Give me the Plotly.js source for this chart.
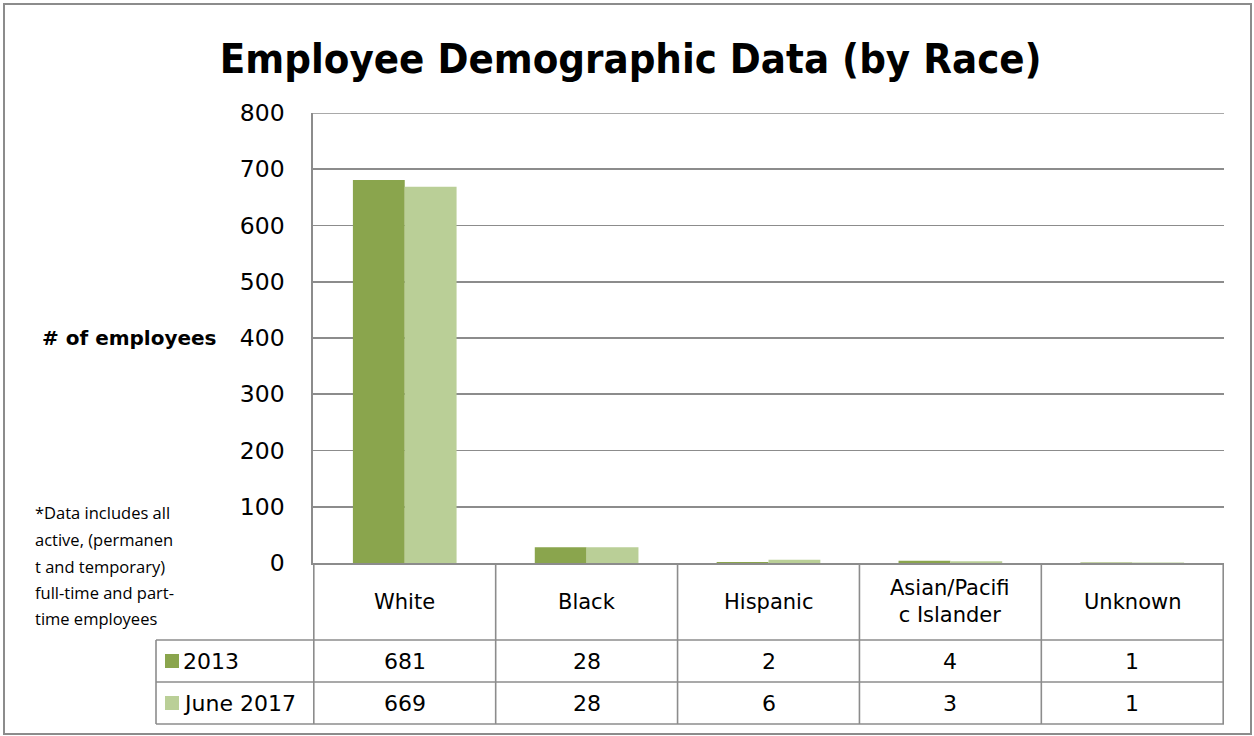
<!DOCTYPE html>
<html>
<head>
<meta charset="utf-8">
<script src="https://cdn.plot.ly/plotly-3.0.1.min.js"></script>
<style>
  html, body { margin: 0; padding: 0; background: #ffffff; }
  #chart { width: 1254px; height: 736px; }
</style>
</head>
<body>
<div id="chart"></div>
<script>
// ---- data ----
var categories = ['White', 'Black', 'Hispanic', 'Asian/Pacific Islander', 'Unknown'];
var categoryLabels = ['White', 'Black', 'Hispanic', 'Asian/Pacifi<br>c Islander', 'Unknown'];
var seriesNames = ['2013', 'June 2017'];
var values2013 = [681, 28, 2, 4, 1];
var valuesJune2017 = [669, 28, 6, 3, 1];
var yTickValues = [0, 100, 200, 300, 400, 500, 600, 700, 800];
var chartTitle = 'Employee Demographic Data (by Race)';
var yAxisLabel = '# of employees';
var noteLines = ['*Data includes all', 'active, (permanen', 't and temporary)', 'full-time and part-', 'time employees'];

// ---- styles ----
var colors = ['#8AA54D', '#BACF97'];
var gridColor = '#8C8C8C';
var baseFont = 'DejaVu Sans, Verdana, sans-serif';

// geometry helpers (paper coordinates of the plot area: left 313, right 1224, top 113, bottom 563)
var plotL = 313, plotR = 1224, plotT = 113, plotB = 563;
function px2paperX(px) { return (px - plotL) / (plotR - plotL); }
function px2paperY(py) { return (plotB - py) / (plotB - plotT); }

var rowLines = [640, 682, 724];
var rowCenters = [601.5, 661, 703];
var legendLeft = 156;

var traces = [
  { type: 'bar', name: seriesNames[0], x: categories, y: values2013, marker: { color: colors[0] }, hoverinfo: 'x+y+name' },
  { type: 'bar', name: seriesNames[1], x: categories, y: valuesJune2017, marker: { color: colors[1] }, hoverinfo: 'x+y+name' }
];

var shapes = [];
var annotations = [];
var lineStyle = { color: gridColor, width: 1.6 };

// top gridline at the axis maximum
shapes.push({ type: 'line', xref: 'paper', yref: 'y', x0: 0, x1: 1, y0: yTickValues[yTickValues.length - 1],
  y1: yTickValues[yTickValues.length - 1], line: lineStyle, layer: 'below' });

// vertical table lines at category boundaries
for (var i = 0; i <= categories.length; i++) {
  shapes.push({ type: 'line', xref: 'x', yref: 'paper', x0: i - 0.5, x1: i - 0.5,
    y0: 0, y1: px2paperY(rowLines[2]), line: lineStyle, layer: 'above' });
}
// horizontal table lines
for (var r = 0; r < rowLines.length; r++) {
  shapes.push({ type: 'line', xref: 'paper', yref: 'paper', x0: px2paperX(legendLeft), x1: 1,
    y0: px2paperY(rowLines[r]), y1: px2paperY(rowLines[r]), line: lineStyle });
}
// legend column left border
shapes.push({ type: 'line', xref: 'paper', yref: 'paper', x0: px2paperX(legendLeft), x1: px2paperX(legendLeft),
  y0: px2paperY(rowLines[0]), y1: px2paperY(rowLines[2]), line: lineStyle });
// outer chart border
shapes.push({ type: 'rect', xref: 'paper', yref: 'paper', x0: px2paperX(4), x1: px2paperX(1251),
  y0: px2paperY(734), y1: px2paperY(4), line: { color: gridColor, width: 2 }, fillcolor: 'rgba(0,0,0,0)' });

// category labels row
for (var c = 0; c < categories.length; c++) {
  annotations.push({ xref: 'x', yref: 'paper', x: categories[c], y: px2paperY(rowCenters[0]),
    text: categoryLabels[c], showarrow: false, xanchor: 'center', yanchor: 'middle',
    font: { family: baseFont, size: 21, color: '#000' } });
}
// data rows
var rows = [values2013, valuesJune2017];
for (var s = 0; s < rows.length; s++) {
  for (var c2 = 0; c2 < categories.length; c2++) {
    annotations.push({ xref: 'x', yref: 'paper', x: categories[c2], y: px2paperY(rowCenters[s + 1]),
      text: String(rows[s][c2]), showarrow: false, xanchor: 'center', yanchor: 'middle',
      font: { family: baseFont, size: 22, color: '#000' } });
  }
  // legend key swatch
  var cy = rowCenters[s + 1];
  shapes.push({ type: 'rect', xref: 'paper', yref: 'paper', x0: px2paperX(165), x1: px2paperX(179),
    y0: px2paperY(cy + 7), y1: px2paperY(cy - 7), line: { width: 0 }, fillcolor: colors[s] });
  annotations.push({ xref: 'paper', yref: 'paper', x: px2paperX(181), y: px2paperY(cy),
    text: seriesNames[s], showarrow: false, xanchor: 'left', yanchor: 'middle',
    font: { family: baseFont, size: 22, color: '#000' } });
}
// y-axis label (horizontal)
annotations.push({ xref: 'paper', yref: 'y', x: px2paperX(219), y: 400, text: '<b>' + yAxisLabel + '</b>',
  showarrow: false, xanchor: 'right', yanchor: 'middle', font: { family: baseFont, size: 20, color: '#000' } });
// note text
var noteBase = [523, 550, 577, 603, 629];
for (var n = 0; n < noteLines.length; n++) {
  annotations.push({ xref: 'paper', yref: 'paper', x: px2paperX(33), y: px2paperY(noteBase[n] + 3),
    text: noteLines[n], showarrow: false, xanchor: 'left', yanchor: 'bottom',
    font: { family: 'Open Sans, Lato, sans-serif', size: 16.5, color: '#000' } });
}

var layout = {
  width: 1254, height: 736,
  margin: { l: plotL, r: 1254 - plotR, t: plotT, b: 736 - plotB, pad: 0 },
  paper_bgcolor: '#ffffff', plot_bgcolor: '#ffffff',
  showlegend: false,
  barmode: 'group', bargap: 0.43, bargroupgap: 0,
  title: { text: '<b>' + chartTitle + '</b>', x: 0.503, xref: 'container', y: 0.92, yref: 'container',
    xanchor: 'center', yanchor: 'middle',
    font: { family: 'DejaVu Sans Condensed, Liberation Sans Narrow, Arial Narrow, sans-serif', size: 41.5, color: '#000' } },
  xaxis: { type: 'category', showticklabels: false, showgrid: false, zeroline: false,
    showline: true, linecolor: gridColor, linewidth: 1.6, ticks: '', fixedrange: true },
  yaxis: { range: [0, 800], tickvals: yTickValues, showgrid: true, gridcolor: gridColor, gridwidth: 1.6,
    zeroline: false, showline: true, linecolor: gridColor, linewidth: 1.6, ticks: '',
    ticklabelstandoff: 22, tickfont: { family: baseFont, size: 23.5, color: '#000' }, fixedrange: true },
  shapes: shapes,
  annotations: annotations
};

Plotly.newPlot('chart', traces, layout, { displayModeBar: false, staticPlot: true });
</script>
</body>
</html>
